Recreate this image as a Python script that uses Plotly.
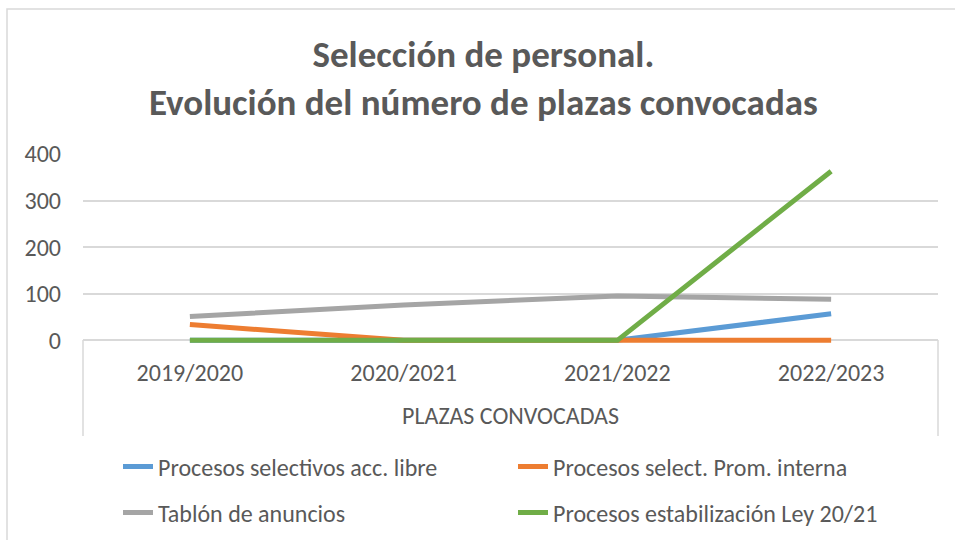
import plotly.graph_objects as go

# Academic years on the category axis
years = ["2019/2020", "2020/2021", "2021/2022", "2022/2023"]

# Positions advertised per year, by type of process
acceso_libre = [0, 0, 0, 57]
promocion_interna = [34, 0, 0, 0]
tablon_anuncios = [51, 76, 95, 88]
estabilizacion = [0, 0, 0, 363]

y_ticks = [0, 100, 200, 300, 400]

FONT = "Carlito, Lato, sans-serif"
TEXT = "#595959"
GRID = "#D9D9D9"

series = [
    ("Procesos selectivos acc. libre", acceso_libre, "#5B9BD5", "legend"),
    ("Procesos select. Prom. interna", promocion_interna, "#ED7D31", "legend"),
    ("Tablón de anuncios", tablon_anuncios, "#A5A5A5", "legend2"),
    ("Procesos estabilización Ley 20/21", estabilizacion, "#70AD47", "legend2"),
]

# Plot area in pixels
L, R, T, B = 83, 938, 154, 345
PH = B - T

fig = go.Figure()
# Draw order: the green series sits above the others, grey below
draw_order = [2, 0, 1, 3]
for i in draw_order:
    name, vals, color, leg = series[i]
    fig.add_trace(go.Scatter(
        x=years, y=vals, name=name, mode="lines",
        line=dict(color=color, width=5), legend=leg,
        legendrank=i,
    ))


def py(px):
    """Pixel row -> paper y."""
    return (B - px) / PH


def px_x(px):
    """Pixel column -> paper x."""
    return (px - L) / (R - L)


fig.update_layout(
    width=955, height=540,
    margin=dict(l=L, r=955 - R, t=T, b=540 - B, autoexpand=False),
    paper_bgcolor="white", plot_bgcolor="white",
    font=dict(family=FONT, color=TEXT, size=24),
    xaxis=dict(
        type="category", range=[-0.5, 3.5], showgrid=False, showline=False,
        ticks="", tickfont=dict(size=24, color=TEXT), ticklabelstandoff=11,
        automargin=False,
    ),
    yaxis=dict(
        range=[-10, 400], tickvals=y_ticks, showgrid=True, gridcolor=GRID,
        gridwidth=1.5, zeroline=True, zerolinecolor=GRID, zerolinewidth=1.5,
        showline=False, ticks="", tickfont=dict(size=24, color=TEXT),
        ticklabelstandoff=21, automargin=False,
    ),
    legend=dict(
        orientation="h", x=px_x(118), xanchor="left",
        y=py(467), yanchor="middle",
        entrywidth=350, entrywidthmode="pixels", traceorder="normal",
        font=dict(size=24, color=TEXT), bgcolor="rgba(0,0,0,0)",
    ),
    legend2=dict(
        orientation="h", x=px_x(118), xanchor="left",
        y=py(513), yanchor="middle",
        entrywidth=350, entrywidthmode="pixels", traceorder="normal",
        font=dict(size=24, color=TEXT), bgcolor="rgba(0,0,0,0)",
    ),
    showlegend=True,
)

# Chart title
fig.add_annotation(
    text="Selección de personal.<br>Evolución del número de plazas convocadas",
    xref="paper", yref="paper", x=px_x(483), y=py(78),
    xanchor="center", yanchor="middle", showarrow=False,
    font=dict(family=FONT, size=37, color=TEXT, weight="bold"),
)

# Outer label of the multi-level category axis
fig.add_annotation(
    text="PLAZAS CONVOCADAS", xref="paper", yref="paper",
    x=0.5, y=py(415), showarrow=False,
    xanchor="center", yanchor="middle", font=dict(size=24, color=TEXT),
)

# Group separators at both ends of the category axis
for xp in (0, 1):
    fig.add_shape(type="line", xref="paper", yref="paper", x0=xp, x1=xp,
                  y0=py(340), y1=py(436), line=dict(color=GRID, width=1.5))

# Chart area border
fig.add_shape(type="rect", xref="paper", yref="paper",
              x0=px_x(7), x1=px_x(970), y0=py(560), y1=py(9),
              line=dict(color=GRID, width=1.5), layer="below")

fig.write_html("out.html")
